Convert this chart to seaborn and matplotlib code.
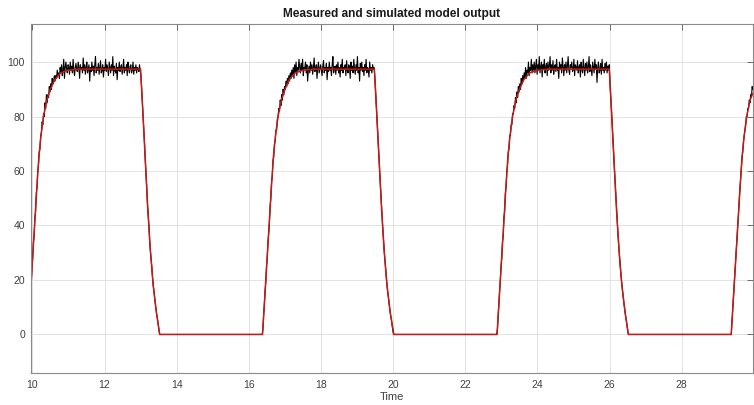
import numpy as np
import pandas as pd
import matplotlib
matplotlib.use("Agg")
import matplotlib.pyplot as plt
import seaborn as sns

# simulated model output (red), breakpoints
sim_time = [9.95, 9.98, 10.03, 10.08, 10.13, 10.18, 10.24, 10.31, 10.40, 10.50, 10.62, 10.78, 11.00, 11.30,
            13.00, 13.05, 13.10, 13.15, 13.20, 13.27, 13.35, 13.44, 13.53,
            16.38, 16.43, 16.48, 16.53, 16.58, 16.63, 16.68, 16.74, 16.81, 16.90, 17.00, 17.12, 17.28, 17.50, 17.80,
            19.48, 19.53, 19.58, 19.63, 19.68, 19.75, 19.83, 19.92, 20.02,
            22.88, 22.93, 22.98, 23.03, 23.08, 23.13, 23.18, 23.24, 23.31, 23.40, 23.50, 23.62, 23.78, 24.00, 24.30,
            25.99, 26.04, 26.09, 26.14, 26.19, 26.26, 26.34, 26.43, 26.52,
            29.37, 29.42, 29.47, 29.52, 29.57, 29.62, 29.67, 29.73, 29.80, 29.89, 29.97]
sim_value = [15.5, 22, 33, 44, 55, 65, 73, 80, 86, 90, 93.5, 96, 97, 97.4,
             97.4, 85, 72, 59, 46, 31, 18, 8, 0,
             0, 11, 22, 33, 44, 55, 65, 73, 80, 86, 90, 93.5, 96, 97, 97.4,
             97.4, 85, 72, 59, 46, 31, 18, 8, 0,
             0, 11, 22, 33, 44, 55, 65, 73, 80, 86, 90, 93.5, 96, 97, 97.4,
             97.4, 85, 72, 59, 46, 31, 18, 8, 0,
             0, 11, 22, 33, 44, 55, 65, 73, 80, 86, 88.5]

# measured output (black), sampled every 0.02 s, one block per pulse
meas_step = 0.02
meas_start = [9.95, 16.35, 22.87, 29.35]
meas_a = [16, 19, 25, 28, 34, 36, 43, 45, 52, 54, 60, 62, 67, 68, 73, 74, 78, 77, 81, 80,
          85, 83, 88, 85, 88, 87, 91, 89, 92, 90, 94, 92, 93, 95, 93, 95, 94, 97, 95, 96,
          94, 98, 96, 99, 95, 97, 101, 94, 98, 100,
          97.5, 96, 99, 98, 95.5, 100, 97, 98.5, 96, 101, 97, 95, 98, 99.5, 97, 96.5, 100, 98, 94, 99,
          97.5, 98, 96, 101.5, 97, 99, 95.5, 98, 100, 96, 97.5, 99, 93, 98, 96.5, 100, 97, 98.5, 95, 99,
          102, 96, 98, 97, 99.5, 95.5, 98, 100.5, 96, 97, 99, 94.5, 98, 97, 101, 96.5, 99, 97.5, 95, 100,
          98, 96, 99, 97, 102, 95, 98.5, 97, 96, 99.5, 93.5, 98, 97, 100, 96.5, 98, 99, 95.5, 97.5, 101,
          96, 98, 97, 99, 95, 100, 97.5, 96, 98.5, 99, 96, 97, 100, 95.5, 98, 97, 99, 96, 98, 97.5,
          96.5, 99, 97,
          95, 90, 85, 80, 75, 70, 64, 59, 54, 48, 44, 40, 35, 31, 28, 25, 21, 18, 16, 13.5,
          11, 9, 7, 5.5, 3.5, 1.5, 0, 0]
meas_b = [0, 0, 2, 7, 11, 16, 19, 25, 28, 34, 37, 41, 47, 50, 56, 58, 64, 65, 70, 71,
          75, 75, 79, 80, 83, 82, 86, 84, 88, 86, 90, 88, 91, 90, 93, 91, 94, 92, 95, 93,
          96, 94, 97, 95, 98, 94, 99, 96, 100, 95, 98, 97, 101,
          98, 96, 99.5, 97, 101, 95, 98, 97.5, 100, 96, 99, 93, 97, 98.5, 96, 100, 97, 99, 95.5, 98,
          101.5, 96.5, 97, 99, 94, 98, 100, 96, 97.5, 99, 97, 95, 98.5, 100.5, 96, 98, 97, 99.5, 93.5, 98,
          96.5, 100, 97, 98, 95, 99, 102, 96, 97.5, 98.5, 95.5, 99, 97, 100, 96, 98, 94.5, 99, 97, 101,
          96, 98, 97.5, 99, 95, 100.5, 97, 96, 99, 98, 94, 100, 97, 98.5, 96, 101, 97.5, 95.5, 99, 97,
          102, 96, 98, 93, 99.5, 97, 100, 96.5, 98, 95, 99, 97, 101, 96, 98, 97.5, 94.5, 100, 97, 98,
          96, 99, 97.5, 98,
          95, 90, 85, 80, 75, 69.5, 64, 59, 54, 48.5, 44, 39.5, 35, 31, 27.5, 24, 21, 18, 15.5, 13.5,
          11, 9, 7, 5.5, 3.5, 1.5, 0, 0]
meas_c = [0, 2, 7, 11, 16, 20, 25, 28, 34, 36, 43, 45, 52, 54, 60, 62, 67, 68, 73, 73,
          77, 77, 81, 81, 84, 83, 87, 85, 89, 87, 91, 89, 92, 90, 94, 92, 95, 93, 96, 94,
          98, 94, 97, 96, 100, 95, 98, 97, 101, 96, 99,
          97, 100, 96, 98.5, 101, 95.5, 99, 97, 102, 96, 98, 100, 94.5, 99, 97.5, 101, 96, 98, 99.5, 95,
          100, 97, 98.5, 102, 96, 99, 97, 100.5, 95.5, 98, 99, 96.5, 101, 97, 98, 94, 100, 97.5, 99, 96,
          101.5, 98, 95, 99, 97, 100, 96, 98.5, 102, 97, 95.5, 99, 98, 100, 96.5, 97, 101, 95, 99, 98,
          97, 100.5, 96, 98, 99, 94.5, 100, 97.5, 96, 101, 98, 95, 99.5, 97, 100, 96, 98, 102, 96.5, 99,
          97, 95, 100, 98, 96, 101, 97.5, 99, 92.5, 98, 100, 96, 97, 99.5, 95.5, 101, 97, 98, 96, 99.5,
          97, 100, 96, 98.5, 97, 99,
          92, 87.5, 82.5, 77.5, 72, 66.5, 61.5, 56.5, 51, 46, 42, 37, 33, 29, 25.5, 22.5, 19.5, 17, 14.5, 12,
          10, 8, 6, 4.5, 2.5, 0.5, 0]
meas_d = [0, 0, 4.5, 9, 13, 18, 22, 27, 31, 35, 40, 44, 49, 53, 57, 61, 65, 67, 71, 73,
          75, 77, 80, 80, 83, 83, 86, 85, 88, 87, 91, 90]

x_ticks = [10, 12, 14, 16, 18, 20, 22, 24, 26, 28]
y_ticks = [0, 20, 40, 60, 80, 100]

sns.set_style("whitegrid")
plt.rcParams['font.family'] = ['Liberation Sans', 'DejaVu Sans']

blocks = [meas_a, meas_b, meas_c, meas_d]
meas_time = np.concatenate([t0 + meas_step * np.arange(len(v)) for t0, v in zip(meas_start, blocks)])
meas_value = np.concatenate([np.array(v, dtype=float) for v in blocks])
measured = pd.DataFrame({'Time': meas_time, 'y': meas_value})
simulated = pd.DataFrame({'Time': sim_time, 'y': sim_value})

fig = plt.figure(figsize=(7.54, 4.05), dpi=100)
ax = fig.add_axes([0.0405, 0.080, 0.958, 0.861])
sns.lineplot(data=measured, x='Time', y='y', sort=False, estimator=None, color='black', linewidth=0.8, ax=ax)
sns.lineplot(data=simulated, x='Time', y='y', sort=False, estimator=None, color='#c41a1a', linewidth=1.1, ax=ax)

ax.set_xlim(9.95, 29.97)
ax.set_ylim(-14, 114)
ax.set_xticks(x_ticks)
ax.set_yticks(y_ticks)
ax.grid(True, color='#e3e3e3', linewidth=0.7)
for sp in ax.spines.values():
    sp.set_visible(True)
    sp.set_color('#8a8a8a')
    sp.set_linewidth(0.8)
ax.tick_params(direction='in', length=4, width=0.7, color='#6a6a6a', top=True, right=True,
               labelsize=7.5, labelcolor='#404040')
ax.tick_params(axis='x', pad=5)
ax.tick_params(axis='y', pad=4)
ax.set_title('Measured and simulated model output', fontsize=8.6, fontweight='bold', color='#1a1a1a', pad=5)
ax.set_xlabel('Time', fontsize=8, color='#404040', labelpad=2)
ax.set_ylabel('')

fig.savefig('out.png', dpi=100)
